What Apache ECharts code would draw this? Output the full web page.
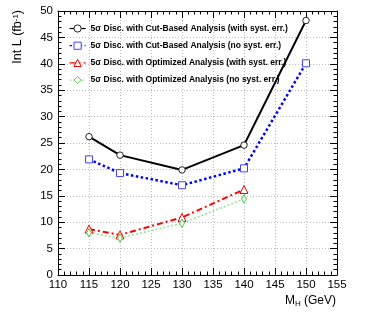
<!DOCTYPE html>
<html><head><meta charset="utf-8">
<script src="https://cdn.jsdelivr.net/npm/echarts@6/dist/echarts.min.js"></script>
<style>html,body{margin:0;padding:0;background:#fff}#c{width:374px;height:316px}</style>
</head><body><div id="c"></div>
<script>
var massesCut = [115, 120, 130, 140, 150];
var cutSyst = [26.2, 22.7, 19.9, 24.6, 48.2];
var cutNoSyst = [21.9, 19.3, 17.0, 20.2, 40.1];
var massesOpt = [115, 120, 130, 140];
var optSyst = [8.7, 7.6, 10.9, 16.2];
var optNoSyst = [8.0, 7.0, 9.8, 14.4];
var seriesNames = [
  '5\u03c3 Disc. with Cut-Based Analysis (with syst. err.)',
  '5\u03c3 Disc. with Cut-Based Analysis (no syst. err.)',
  '5\u03c3 Disc. with Optimized Analysis (with syst. err.)',
  '5\u03c3 Disc. with Optimized Analysis (no syst. err.)'
];
var xTitle = 'M{sub|H} (GeV)';
var yTitle = 'Int L (fb{sup|-1})';

function pairs(xs, ys) { return xs.map(function (x, i) { return [x, ys[i]]; }); }

var FONT = 'Liberation Sans, Arial, Helvetica, sans-serif';
var chart = echarts.init(document.getElementById('c'), null, {renderer: 'canvas'});

function mkX(pos, labels) {
  return {
    type: 'value', min: 110, max: 155, interval: 5, position: pos,
    axisLine: {show: true, onZero: false, lineStyle: {color: '#000', width: 1}},
    axisTick: {show: true, inside: true, length: 7, lineStyle: {color: '#000'}},
    minorTick: {show: true, splitNumber: 5, length: 3.5, lineStyle: {color: '#000'}},
    axisLabel: {show: labels, color: '#000', fontSize: 11.5, fontFamily: FONT, margin: 4, showMinLabel: true, showMaxLabel: true},
    splitLine: {show: labels, lineStyle: {color: '#bbb', type: [1, 2], width: 1}}
  };
}
function mkY(pos, labels) {
  return {
    type: 'value', min: 0, max: 50, interval: 5, position: pos,
    axisLine: {show: true, onZero: false, lineStyle: {color: '#000', width: 1}},
    axisTick: {show: true, inside: true, length: 7, lineStyle: {color: '#000'}},
    minorTick: {show: true, splitNumber: 5, length: 3.5, lineStyle: {color: '#000'}},
    axisLabel: {show: labels, color: '#000', fontSize: 11.5, fontFamily: FONT, margin: 5, showMinLabel: true, showMaxLabel: true},
    splitLine: {show: labels, lineStyle: {color: '#bbb', type: [1, 2], width: 1}}
  };
}

var option = {
  backgroundColor: '#fff',
  animation: false,
  grid: {left: 58, right: 37, top: 11, bottom: 41, containLabel: false},
  xAxis: [mkX('bottom', true), mkX('top', false)],
  yAxis: [mkY('left', true), mkY('right', false)],
  legend: {
    orient: 'vertical', left: 64, top: 19,
    itemWidth: 16, itemHeight: 9, itemGap: 8.2,
    itemStyle: {borderWidth: 1},
    lineStyle: {width: 1.2},
    textStyle: {fontSize: 8.5, fontWeight: 'bold', fontFamily: FONT, color: '#000'},
    data: seriesNames
  },
  series: [
    {name: seriesNames[0], type: 'line', data: pairs(massesCut, cutSyst),
     symbol: 'circle', symbolSize: 6.5,
     lineStyle: {color: '#000', width: 2, type: 'solid'},
     itemStyle: {color: '#fff', borderColor: '#222', borderWidth: 1}},
    {name: seriesNames[1], type: 'line', data: pairs(massesCut, cutNoSyst),
     symbol: 'rect', symbolSize: 7,
     lineStyle: {color: '#0000ff', width: 2.5, type: [2.5, 2.5]},
     itemStyle: {color: '#fff', borderColor: '#4444ff', borderWidth: 1}},
    {name: seriesNames[2], type: 'line', data: pairs(massesOpt, optSyst),
     symbol: 'triangle', symbolSize: 8,
     lineStyle: {color: '#ff0000', width: 2, type: [6, 3, 2, 3]},
     itemStyle: {color: '#fff', borderColor: '#ff0000', borderWidth: 1}},
    {name: seriesNames[3], type: 'line', data: pairs(massesOpt, optNoSyst),
     symbol: 'diamond', symbolSize: [5, 8],
     lineStyle: {color: '#99e699', width: 1.6, type: [2, 2]},
     itemStyle: {color: '#fff', borderColor: '#55cc55', borderWidth: 1}}
  ],
  graphic: [
    {type: 'text', x: 18, y: 10, rotation: Math.PI / 2,
     style: {text: yTitle, align: 'right', verticalAlign: 'middle', fill: '#000',
             font: '12.5px ' + FONT,
             rich: {sup: {fontSize: 8, verticalAlign: 'top', fontFamily: FONT, fill: '#000'}}}},
    {type: 'text', x: 336, y: 301,
     style: {text: xTitle, align: 'right', verticalAlign: 'middle', fill: '#000',
             font: '12px ' + FONT,
             rich: {sub: {fontSize: 8, verticalAlign: 'bottom', fontFamily: FONT, fill: '#000', padding: [6, 0, 0, 0]}}}}
  ]
};
chart.setOption(option);
</script>
</body></html>
